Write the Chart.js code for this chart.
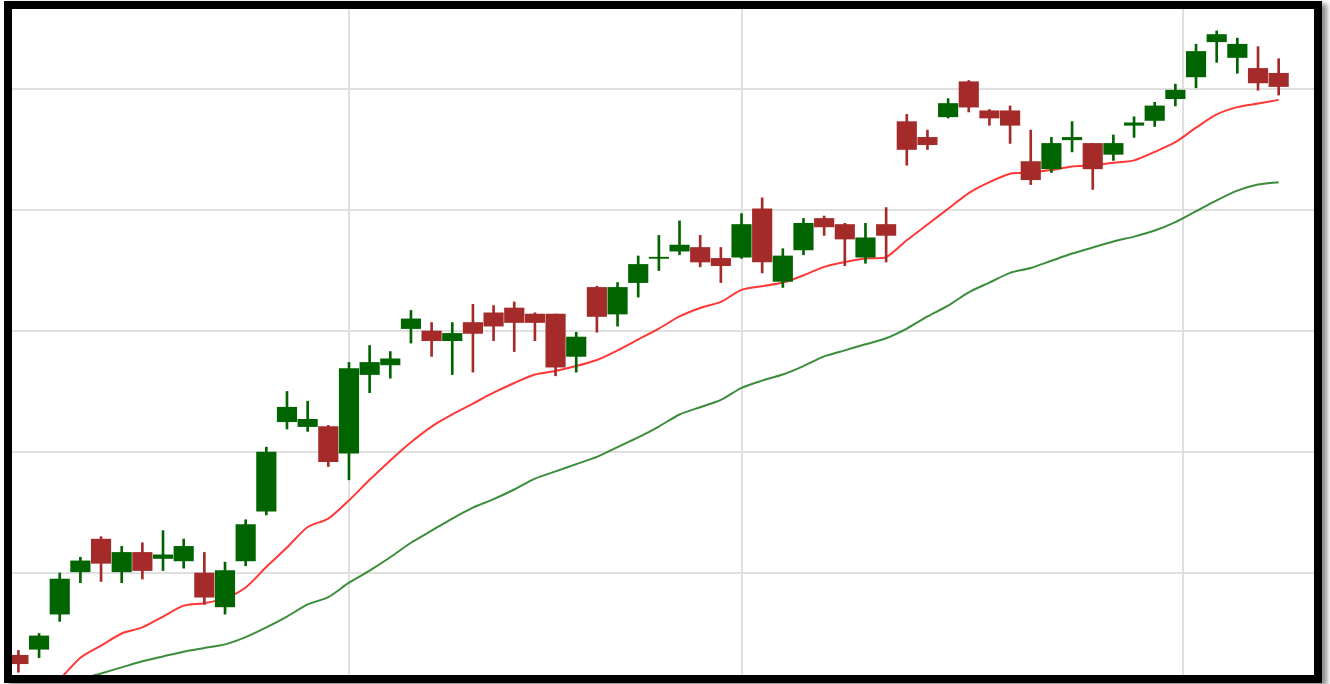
<!DOCTYPE html>
<html>
<head>
    <title>Candlestick chart</title>
    <script src="https://cdn.jsdelivr.net/npm/chart.js"></script>
    <style>
        body { margin: 0; background: #fff; }
        #frame {
            position: absolute;
            left: 4px;
            top: 1px;
            width: 1302px;
            height: 666px;
            border: 8px solid #000;
            box-shadow: 5px 3px 5px rgba(0, 0, 0, 0.45);
            background: #fff;
        }
    </style>
</head>
<body>
    <div id="frame"><canvas id="myChart"></canvas></div>

    <script>
        // daily prices, one entry per session
        var opens  = [93.2, 93.7, 96.6, 100.1, 102.8, 100.1, 101.7, 101.2, 101.0, 100.0,
                      97.2, 101.0, 105.1, 112.5, 112.1, 112.1, 109.9, 116.4, 117.2, 120.2,
                      120.0, 119.2, 120.7, 121.5, 121.9, 121.4, 121.4, 117.9, 123.6, 121.4,
                      124.0, 126.0, 126.6, 126.9, 126.0, 126.1, 130.1, 124.1, 126.7, 129.3,
                      128.8, 126.1, 128.8, 137.3, 136.0, 137.7, 140.6, 138.2, 138.2, 134.0,
                      133.4, 135.8, 135.5, 134.6, 137.0, 137.4, 139.2, 141.0, 143.9, 142.6,
                      141.7, 141.3];
        var highs  = [93.6, 95.0, 100.0, 101.3, 103.0, 102.2, 102.5, 103.5, 102.8, 101.7,
                      100.9, 104.4, 110.4, 115.0, 114.2, 112.2, 117.4, 118.8, 118.3, 121.7,
                      120.7, 120.7, 122.2, 122.1, 122.4, 121.5, 121.4, 119.9, 123.7, 124.0,
                      126.2, 127.9, 129.1, 127.9, 126.9, 129.7, 131.0, 126.8, 129.3, 129.5,
                      128.9, 128.9, 130.2, 137.9, 136.6, 139.2, 140.7, 138.3, 138.6, 136.6,
                      136.0, 137.3, 135.5, 136.2, 137.7, 138.9, 140.4, 143.7, 144.8, 144.2,
                      143.5, 142.5];
        var lows   = [91.8, 93.0, 96.0, 99.2, 99.3, 99.2, 99.5, 100.2, 100.4, 97.4,
                      96.6, 100.6, 104.8, 111.9, 111.7, 108.8, 107.7, 114.9, 116.1, 119.0,
                      117.9, 116.4, 116.6, 119.2, 118.3, 119.2, 116.3, 116.6, 119.9, 120.4,
                      122.8, 125.0, 126.3, 125.3, 124.0, 126.0, 124.8, 123.6, 126.3, 127.9,
                      125.4, 125.6, 125.7, 133.7, 135.0, 137.6, 138.1, 137.0, 135.5, 132.1,
                      133.1, 134.8, 131.7, 134.1, 136.0, 136.9, 138.6, 140.1, 142.2, 141.3,
                      139.9, 139.5];
        var closes = [92.5, 94.8, 99.5, 101.0, 100.8, 101.7, 100.2, 101.5, 102.2, 98.0,
                      100.2, 104.0, 110.0, 113.7, 112.7, 109.2, 116.9, 117.4, 117.7, 121.0,
                      119.2, 119.8, 119.8, 120.4, 120.7, 120.7, 117.0, 119.5, 121.2, 123.6,
                      125.5, 126.1, 127.1, 125.7, 125.4, 128.8, 125.7, 126.2, 128.9, 128.6,
                      127.6, 127.7, 127.9, 135.0, 135.4, 138.8, 138.5, 137.6, 137.0, 132.5,
                      135.5, 136.0, 133.4, 135.5, 137.2, 138.6, 139.9, 143.1, 144.5, 143.7,
                      140.5, 140.2];

        // moving averages
        var maShort = [87.4, 89.5, 91.2, 93.0, 94.0, 95.0, 95.5, 96.4, 97.3, 97.5,
                       97.9, 98.8, 100.5, 102.1, 103.8, 104.5, 106.0, 107.7, 109.3, 110.8,
                       112.1, 113.1, 114.0, 114.9, 115.7, 116.4, 116.7, 117.1, 117.6, 118.4,
                       119.3, 120.2, 121.2, 121.9, 122.4, 123.4, 123.7, 124.0, 124.6, 125.3,
                       125.7, 126.0, 126.1, 127.5, 128.8, 130.1, 131.4, 132.3, 133.0, 133.1,
                       133.3, 133.6, 133.7, 133.9, 134.1, 134.8, 135.6, 136.8, 137.9, 138.5,
                       138.8, 139.1];
        var maLong  = [89.3, 89.9, 90.5, 91.2, 91.7, 92.2, 92.7, 93.1, 93.5, 93.8,
                       94.1, 94.7, 95.5, 96.4, 97.4, 98.0, 99.2, 100.2, 101.3, 102.5,
                       103.5, 104.5, 105.4, 106.1, 106.9, 107.8, 108.4, 109.0, 109.6, 110.4,
                       111.2, 112.1, 113.1, 113.7, 114.3, 115.3, 115.9, 116.4, 117.1, 117.9,
                       118.4, 118.9, 119.4, 120.2, 121.2, 122.1, 123.2, 124.0, 124.8, 125.2,
                       125.8, 126.4, 126.9, 127.4, 127.8, 128.3, 129.0, 129.9, 130.8, 131.6,
                       132.1, 132.3];

        // grid positions (session index / price)
        var gridTicks  = [16, 35, 56.35];
        var priceTicks = [100, 110, 120, 130, 140];

        var upColor = '#006400';
        var downColor = '#a52a2a';

        var colors = opens.map(function (o, i) {
            return closes[i] >= o ? upColor : downColor;
        });

        var ctx = document.getElementById('myChart').getContext('2d');
        var myChart = new Chart(ctx, {
            data: {
                datasets: [
                    {
                        type: 'bar',
                        label: 'Body',
                        data: opens.map(function (o, i) { return {x: i, y: [o, closes[i]]}; }),
                        backgroundColor: colors,
                        borderWidth: 0,
                        barThickness: 19.5,
                        grouped: false,
                        order: 1
                    },
                    {
                        type: 'bar',
                        label: 'Wick',
                        data: highs.map(function (h, i) { return {x: i, y: [lows[i], h]}; }),
                        backgroundColor: colors,
                        borderWidth: 0,
                        barThickness: 2,
                        grouped: false,
                        order: 2
                    },
                    {
                        type: 'line',
                        label: 'MA short',
                        data: maShort.map(function (v, i) { return {x: i, y: v}; }),
                        borderColor: 'rgba(255, 20, 20, 0.85)',
                        borderWidth: 2,
                        pointRadius: 0,
                        tension: 0.25,
                        order: 3
                    },
                    {
                        type: 'line',
                        label: 'MA long',
                        data: maLong.map(function (v, i) { return {x: i, y: v}; }),
                        borderColor: 'rgba(25, 120, 25, 0.85)',
                        borderWidth: 2,
                        pointRadius: 0,
                        tension: 0.25,
                        order: 4
                    }
                ]
            },
            options: {
                responsive: true,
                maintainAspectRatio: false,
                animation: false,
                layout: { padding: 0 },
                plugins: {
                    legend: { display: false },
                    tooltip: { enabled: false }
                },
                scales: {
                    x: {
                        type: 'linear',
                        min: -0.31,
                        max: 62.71,
                        offset: false,
                        grid: { offset: false, color: '#e0e0e0', lineWidth: 2, drawTicks: false },
                        border: { display: false },
                        ticks: { display: false },
                        afterBuildTicks: function (scale) {
                            scale.ticks = gridTicks.map(function (v) { return {value: v}; });
                        }
                    },
                    y: {
                        type: 'linear',
                        min: 91.57,
                        max: 146.61,
                        grid: { color: '#e0e0e0', lineWidth: 2, drawTicks: false },
                        border: { display: false },
                        ticks: { display: false },
                        afterBuildTicks: function (scale) {
                            scale.ticks = priceTicks.map(function (v) { return {value: v}; });
                        }
                    }
                }
            }
        });
    </script>
</body>
</html>
